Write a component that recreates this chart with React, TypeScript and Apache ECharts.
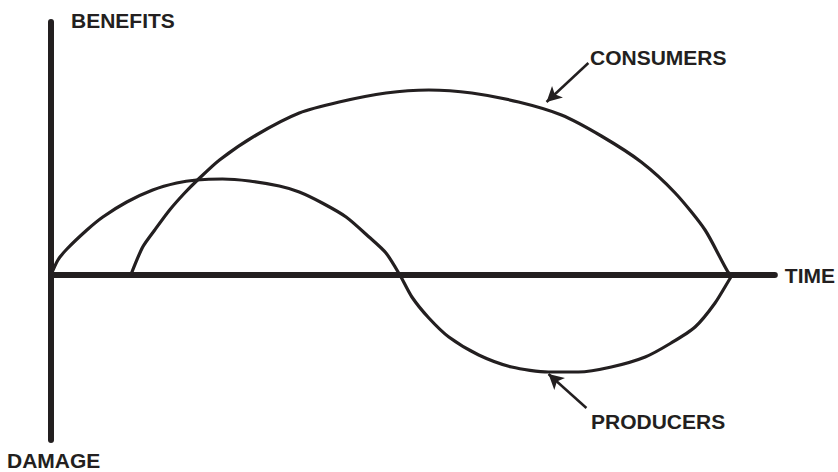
import React, { useEffect, useRef } from "react";
import * as echarts from "echarts";

const INK = "#231f20";
const FONT = "bold 21px 'Liberation Sans', Arial, sans-serif";

// time on a 0..100 scale, benefit (+) / damage (-) in index units
const producersTime = [0, 0.96, 2.2, 4.96, 7.16, 10.47, 14.05, 17.36, 20.11, 23.69, 27.41, 31.54, 34.3, 37.47, 40.77, 43.94, 46.28, 48.2, 49.86, 52.2, 54.96, 59.09, 63.64, 68.73, 72.87, 77.41, 82.09, 85.67, 88.98, 91.74, 93.94, 94.21];
const producersValue = [0, 15, 26, 45, 58, 73, 85, 92, 95, 96, 94, 89, 83, 72, 58, 38, 22, 0, -22, -43, -62, -80, -92, -97, -97, -92, -82, -68, -52, -28, -2, 0];

const consumersTime = [11.02, 12.67, 14.33, 16.39, 18.46, 20.25, 23.28, 28.37, 34.3, 39.81, 46.28, 52.2, 58.13, 64.6, 70.52, 76.03, 81.54, 86.23, 90.36, 93.53, 94.21];
const consumersValue = [0, 28, 45, 65, 82, 95, 115, 140, 162, 173, 182, 185, 182, 173, 160, 139, 113, 82, 45, 3, 0];

const consumersArrow = [[74.24, 212], [68.46, 173]];
const producersArrow = [[73.97, -133], [68.73, -99]];

const timeRange = [0, 100];
const valueRange = [-165, 253];

export default function App() {
  const ref = useRef<HTMLDivElement>(null);
  useEffect(() => {
    if (!ref.current) return;
    const chart = echarts.init(ref.current, undefined, { renderer: "svg" });
    const zip = (a: number[], b: number[]) => a.map((x, i) => [x, b[i]]);
    const arrow = (pts: number[][]) => ({
      silent: true,
      symbol: ["none", "arrow"],
      symbolSize: [12, 15],
      label: { show: false },
      lineStyle: { type: "solid", width: 2.5, color: INK },
      data: [[{ coord: pts[0] }, { coord: pts[1] }]],
    });
    chart.setOption({
      animation: false,
      backgroundColor: "#ffffff",
      grid: { left: 51, right: 61, top: 22, bottom: 32 },
      xAxis: {
        type: "value",
        min: timeRange[0],
        max: timeRange[1],
        name: "TIME",
        nameLocation: "end",
        nameGap: 10,
        nameTextStyle: { color: INK, fontSize: 21, fontWeight: "bold", fontFamily: "'Liberation Sans', Arial, sans-serif", verticalAlign: "middle" },
        axisLine: { show: true, onZero: true, lineStyle: { color: INK, width: 6 } },
        axisTick: { show: false },
        axisLabel: { show: false },
        splitLine: { show: false },
      },
      yAxis: {
        type: "value",
        min: valueRange[0],
        max: valueRange[1],
        axisLine: { show: true, onZero: true, lineStyle: { color: INK, width: 6 } },
        axisTick: { show: false },
        axisLabel: { show: false },
        splitLine: { show: false },
      },
      graphic: [
        { type: "text", x: 71, y: 20, style: { text: "BENEFITS", font: FONT, fill: INK, align: "left", verticalAlign: "middle" } },
        { type: "text", x: 7, y: 460, style: { text: "DAMAGE", font: FONT, fill: INK, align: "left", verticalAlign: "middle" } },
        { type: "text", x: 590, y: 57.5, style: { text: "CONSUMERS", font: FONT, fill: INK, align: "left", verticalAlign: "middle" } },
        { type: "text", x: 591, y: 421.5, style: { text: "PRODUCERS", font: FONT, fill: INK, align: "left", verticalAlign: "middle" } },
      ],
      series: [
        {
          name: "Producers",
          type: "line",
          data: zip(producersTime, producersValue),
          showSymbol: false,
          smooth: 0.25,
          lineStyle: { color: INK, width: 3.2, join: "round" },
          markLine: arrow(producersArrow),
        },
        {
          name: "Consumers",
          type: "line",
          data: zip(consumersTime, consumersValue),
          showSymbol: false,
          smooth: 0.25,
          lineStyle: { color: INK, width: 3.2, join: "round" },
          markLine: arrow(consumersArrow),
        },
      ],
    });
    return () => chart.dispose();
  }, []);
  return <div ref={ref} style={{ width: 838, height: 472, position: "absolute", left: 0, top: 0 }} />;
}
